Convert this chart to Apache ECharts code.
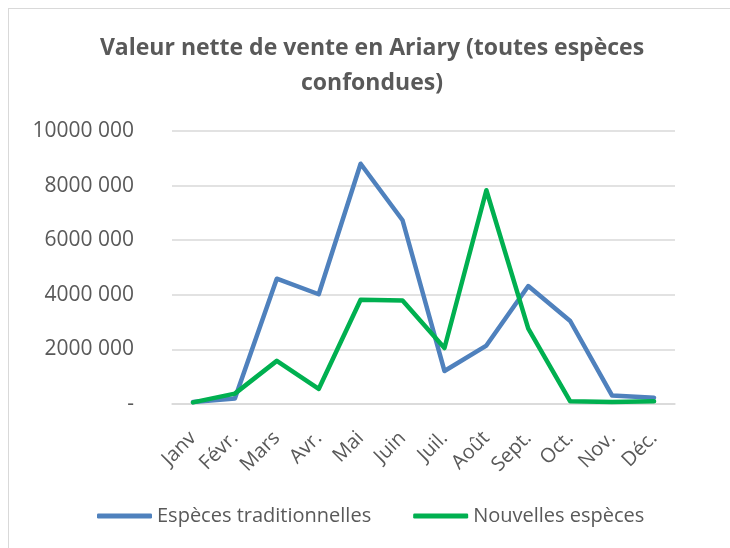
<!DOCTYPE html>
<html>
<head>
<meta charset="utf-8">
<script src="https://cdn.jsdelivr.net/npm/echarts@6/dist/echarts.min.js"></script>
<style>
  html, body { margin: 0; padding: 0; background: #fff; }
  #frame { position: absolute; left: 8px; top: 8px; width: 722px; height: 540px;
           border-left: 1px solid #d9d9d9; border-top: 1px solid #d9d9d9; }
  #main { position: absolute; left: 0; top: 0; width: 730px; height: 548px; }
</style>
</head>
<body>
<div id="frame"></div>
<div id="main"></div>
<script>
// mois
const months = ['Janv', 'Févr.', 'Mars', 'Avr.', 'Mai', 'Juin', 'Juil.', 'Août', 'Sept.', 'Oct.', 'Nov.', 'Déc.'];
// valeurs en Ariary
const traditionnelles = [70000, 200000, 4590000, 4020000, 8800000, 6730000, 1210000, 2140000, 4320000, 3040000, 310000, 230000];
const nouvelles = [60000, 380000, 1580000, 550000, 3820000, 3790000, 2050000, 7830000, 2760000, 100000, 70000, 100000];
const seriesNames = ['Espèces traditionnelles', 'Nouvelles espèces'];
const colors = ['#4f81bd', '#00b050'];

const font = '"Open Sans", Lato, sans-serif';
const grey = '#595959';

let myChart = echarts.init(document.getElementById('main'));
let option = {
    animation: false,
    color: colors,
    title: {
        text: 'Valeur nette de vente en Ariary (toutes espèces\nconfondues)',
        left: 367,
        textAlign: 'center',
        top: 26,
        textStyle: {
            fontFamily: font,
            fontSize: 23,
            fontWeight: 'bold',
            color: grey,
            lineHeight: 35
        }
    },
    legend: {
        bottom: 17,
        left: 92,
        icon: 'roundRect',
        itemWidth: 55,
        itemHeight: 5,
        itemGap: 42,
        data: seriesNames,
        textStyle: { fontFamily: font, fontSize: 20, color: grey }
    },
    grid: { left: 172, right: 55, top: 131, bottom: 144 },
    xAxis: {
        type: 'category',
        data: months,
        boundaryGap: true,
        axisLine: { lineStyle: { color: '#d9d9d9', width: 1.5 } },
        axisTick: { show: false },
        axisLabel: {
            rotate: 45,
            margin: 31,
            interval: 0,
            fontFamily: font,
            fontSize: 20,
            color: grey
        }
    },
    yAxis: {
        type: 'value',
        min: 0,
        max: 10000000,
        interval: 2000000,
        axisLine: { show: false },
        axisTick: { show: false },
        splitLine: { lineStyle: { color: '#d9d9d9', width: 1.5 } },
        axisLabel: {
            margin: 38,
            fontFamily: font,
            fontSize: 21,
            color: grey,
            formatter: function (v) {
                if (v === 0) return '-';
                return Math.floor(v / 1000000) * 1000 + ' 000';
            }
        }
    },
    series: [
        {
            name: seriesNames[0],
            type: 'line',
            data: traditionnelles,
            symbol: 'none',
            lineStyle: { width: 4.5, cap: 'round', join: 'round' }
        },
        {
            name: seriesNames[1],
            type: 'line',
            data: nouvelles,
            symbol: 'none',
            lineStyle: { width: 4.5, cap: 'round', join: 'round' }
        }
    ]
};
myChart.setOption(option, true);
</script>
</body>
</html>
